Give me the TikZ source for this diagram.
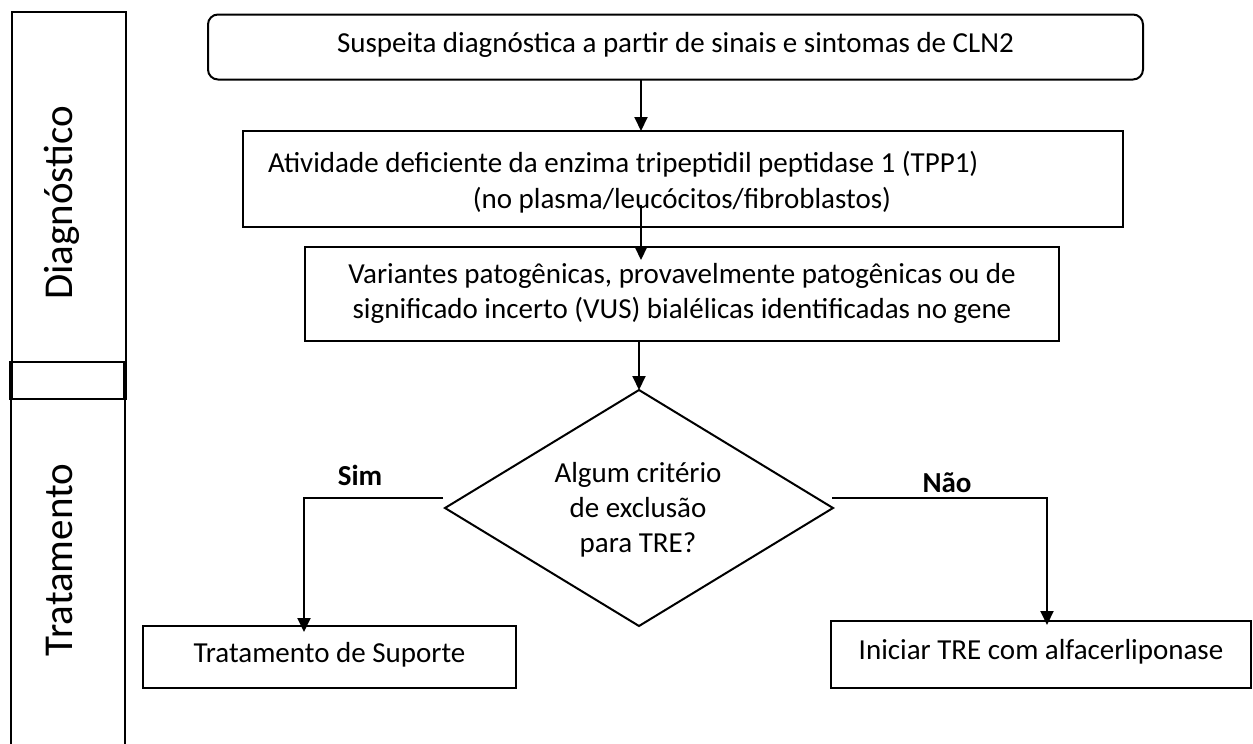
\documentclass[tikz,border=0pt]{standalone}
\usepackage{fontspec}
\setmainfont{Carlito}
\usetikzlibrary{shapes.geometric,arrows.meta,calc}
\begin{document}
\begin{tikzpicture}[x=0.5pt,y=-0.5pt,
 every node/.style={font=\fontsize{14.5pt}{17.5pt}\selectfont, inner sep=0pt, outer sep=0pt},
 box/.style={draw, line width=1pt, rectangle, text height=0.75em, text depth=0.25em},
 rbox/.style={box, rounded corners=5pt},
 txt/.style={anchor=base},
 arr/.style={line width=1pt, -{Triangle[width=6.5pt,length=7pt]}},
 lane/.style={font=\fontsize{20.5pt}{24pt}\selectfont, rotate=90, anchor=base},
 lbl/.style={anchor=base, font=\fontsize{14.5pt}{17.5pt}\selectfont\bfseries},
 dia/.style={draw, line width=1pt, shape=diamond, minimum width=194pt, minimum height=118pt}]
\useasboundingbox (0,0) rectangle (1253,744);

% left lanes
\node[draw, line width=1pt, minimum width=57pt, minimum height=175pt] (dg) at (69,187) {};
\node[draw, line width=1pt, minimum width=58pt, minimum height=18.5pt] (mid) at (68,380.5) {};
\draw[line width=2pt] (mid.north west) ++(1,0) coordinate (m1) -- (m1 |- mid.south);
\draw[line width=2pt] (mid.north east) ++(-1,0) coordinate (m2) -- (m2 |- mid.south);
\coordinate (tl) at (11,744);
\coordinate (tr) at (125,744);
\draw[line width=1pt] (tl) -- (tl |- mid.south) -- (tr |- mid.south) -- (tr);
\node[lane] (ldg) at (72,203) {Diagnóstico};
\node[lane] (ltr) at (72,560) {Tratamento};

% flow boxes
\node[rbox, minimum width=467.5pt, minimum height=32.5pt] (t) at (675.5,47) {Suspeita diagnóstica a partir de sinais e sintomas de CLN2};
\node[box, minimum width=440pt, minimum height=48pt] (b2) at (683,179) {};
\node[txt, anchor=base west] (b2a) at (268,172) {Atividade deficiente da enzima tripeptidil peptidase 1 (TPP1)};
\node[txt] (b2b) at (682,208) {(no plasma/leucócitos/fibroblastos)};
\node[box, minimum width=377pt, minimum height=47pt] (b3) at (682,294) {};
\node[txt] (b3a) at (682,283) {Variantes patogênicas, provavelmente patogênicas ou de};
\node[txt] (b3b) at (682,318) {significado incerto (VUS) bialélicas identificadas no gene};
\node[dia] (d) at (639,508) {};
\node[txt] (d1) at (638,482) {Algum critério};
\node[txt] (d2) at (638,517) {de exclusão};
\node[txt] (d3) at (638,552) {para TRE?};
\node[box, minimum width=186.5pt, minimum height=31pt] (sup) at (329.5,657) {Tratamento de Suporte};
\node[box, minimum width=210pt, minimum height=33.5pt] (ini) at (1041,654.5) {Iniciar TRE com alfacerliponase};

\node[lbl] (sim) at (360,485) {Sim};
\node[lbl] (nao) at (947,492) {Não};

% connectors
\coordinate (xa) at (641,0);
\coordinate (a2s) at (641,205);
\coordinate (xs) at (304,0);
\coordinate (xn) at (1047,0);
\draw[arr] (t.south -| xa) -- (b2.north -| xa);
\draw[arr] (a2s) -- ($(b3.north -| xa)+(0,13)$);
\draw[arr] (b3.south -| d.north) -- (d.north);
\draw[arr] ($(d.west)+(-2,-10)$) -| ($(sup.north -| xs)+(0,6)$);
\draw[arr] ($(d.east)+(-1,-10)$) -| ($(ini.north -| xn)+(0,4)$);
\end{tikzpicture}
\end{document}
